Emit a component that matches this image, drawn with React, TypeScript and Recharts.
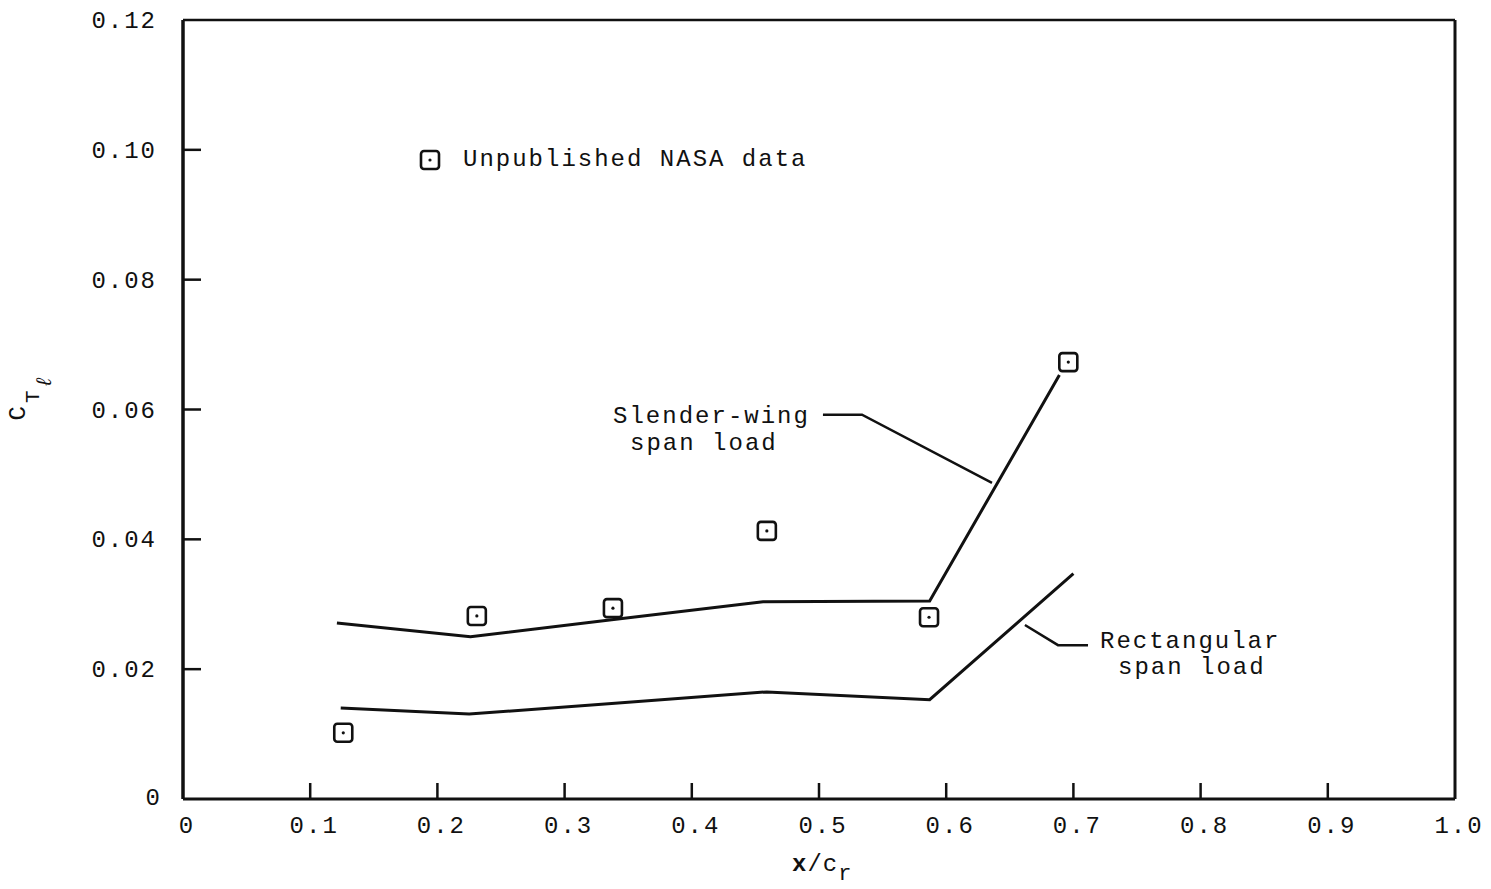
import React from 'react';
import {
  ComposedChart,
  Line,
  Scatter,
  XAxis,
  YAxis,
  ReferenceLine,
  ReferenceDot,
  Legend,
  Label,
} from 'recharts';

// ---------- data ----------
const xTicks = [0, 0.1, 0.2, 0.3, 0.4, 0.5, 0.6, 0.7, 0.8, 0.9, 1.0];
const yTicks = [0, 0.02, 0.04, 0.06, 0.08, 0.1, 0.12];

// Unpublished NASA data (square symbols)
const nasaX = [0.126, 0.231, 0.338, 0.459, 0.5865, 0.696];
const nasaY = [0.0102, 0.0282, 0.0294, 0.0413, 0.028, 0.0673];

// Slender-wing span load curve
const slenderX = [0.121, 0.226, 0.337, 0.456, 0.587, 0.689];
const slenderY = [0.0271, 0.025, 0.0276, 0.0304, 0.0305, 0.0653];

// Rectangular span load curve
const rectX = [0.124, 0.225, 0.337, 0.459, 0.587, 0.7];
const rectY = [0.014, 0.0131, 0.0147, 0.0165, 0.0153, 0.0347];

// Annotation leader lines
const slenderLeaderX = [0.5031, 0.5338, 0.636];
const slenderLeaderY = [0.0592, 0.0592, 0.0487];
const rectLeaderX = [0.6619, 0.6879, 0.7115];
const rectLeaderY = [0.0268, 0.0237, 0.0237];

const legendLabel = 'Unpublished NASA data';
const slenderLabel = ['Slender-wing', 'span load'];
const rectLabel = ['Rectangular', 'span load'];
const slenderLabelAt = { x: 0.3381, y: 0.0579 };
const rectLabelAt = { x: 0.7209, y: 0.0233 };

const zip = (xs: number[], ys: number[]) => xs.map((x, i) => ({ x, y: ys[i] }));
const nasaData = zip(nasaX, nasaY);
const slenderData = zip(slenderX, slenderY);
const rectData = zip(rectX, rectY);
const slenderLeader = zip(slenderLeaderX, slenderLeaderY);
const rectLeader = zip(rectLeaderX, rectLeaderY);

// ---------- styles ----------
const FONT = "'Liberation Mono', 'Courier New', monospace";
const INK = '#111';

const XTick = (props: any) => {
  const { x, y, payload } = props;
  const v = payload.value as number;
  const label = v === 0 ? '0' : v === 1 ? '1.0' : v.toFixed(1);
  return (
    <g>
      {v > 0 && v < 1 && (
        <line x1={x} x2={x} y1={y} y2={y - 16} stroke={INK} strokeWidth={2.5} />
      )}
      <text
        x={x + 4}
        y={y + 34}
        textAnchor="middle"
        fontFamily={FONT}
        fontSize={24}
        letterSpacing={2}
        fill={INK}
      >
        {label}
      </text>
    </g>
  );
};

const YTick = (props: any) => {
  const { x, y, payload } = props;
  const v = payload.value as number;
  const label = v === 0 ? '0' : v.toFixed(2);
  return (
    <g>
      {v > 0 && v < 0.12 && (
        <line x1={x} x2={x + 18} y1={y} y2={y} stroke={INK} strokeWidth={2.5} />
      )}
      <text
        x={v === 0 ? x - 21 : x - 26}
        y={v === 0 ? y + 6 : y + 8}
        textAnchor="end"
        fontFamily={FONT}
        fontSize={24}
        letterSpacing={2}
        fill={INK}
      >
        {label}
      </text>
    </g>
  );
};

const SquareMark = (props: any) => {
  const { cx, cy } = props;
  if (cx == null || cy == null) return null;
  return (
    <g>
      <rect
        x={cx - 9}
        y={cy - 9}
        width={18}
        height={18}
        rx={3}
        fill="none"
        stroke={INK}
        strokeWidth={2.6}
      />
      <circle cx={cx} cy={cy} r={1.6} fill={INK} />
    </g>
  );
};

const makeNote = (lines: string[], dx2: number, dy2: number) => (props: any) => {
  const { cx, cy } = props;
  return (
    <text x={cx} y={cy} fontFamily={FONT} fontSize={24} letterSpacing={2} fill={INK}>
      <tspan x={cx} y={cy}>
        {lines[0]}
      </tspan>
      <tspan x={cx + dx2} y={cy + dy2}>
        {lines[1]}
      </tspan>
    </text>
  );
};

const LegendContent = () => (
  <div
    style={{
      display: 'flex',
      alignItems: 'center',
      fontFamily: FONT,
      fontSize: 24,
      letterSpacing: 2,
      color: INK,
      whiteSpace: 'nowrap',
      lineHeight: '24px',
    }}
  >
    <svg width={24} height={24} style={{ display: 'block' }}>
      <rect x={3} y={3} width={18} height={18} rx={3} fill="none" stroke={INK} strokeWidth={2.6} />
      <circle cx={12} cy={12} r={1.6} fill={INK} />
    </svg>
    <span style={{ marginLeft: 21 }}>{legendLabel}</span>
  </div>
);

const YLabel = (props: any) => {
  const vb = props.viewBox || {};
  const x = vb.x - 78;
  const y = vb.y + vb.height / 2 + 11;
  return (
    <text
      x={x}
      y={y}
      transform={`rotate(-90 ${x} ${y})`}
      fontFamily={FONT}
      fontSize={24}
      fill={INK}
    >
      C
      <tspan dx={3} dy={14} fontSize={21}>
        T
      </tspan>
      <tspan dx={2} dy={12} fontSize={21} fontStyle="italic">
        ℓ
      </tspan>
    </text>
  );
};

const XLabel = (props: any) => {
  const vb = props.viewBox || {};
  const x = vb.x + vb.width / 2 - 27;
  const y = vb.y + 72;
  return (
    <text x={x} y={y} fontFamily={FONT} fontSize={24} letterSpacing={1} fill={INK}>
      <tspan fontWeight="bold">x</tspan>/c
      <tspan dy={9} fontSize={22}>
        r
      </tspan>
    </text>
  );
};

export default function App() {
  return (
    <div style={{ position: 'absolute', left: 0, top: 0, width: 1491, height: 889, background: '#fff' }}>
      <ComposedChart
        width={1491}
        height={889}
        margin={{ top: 20, right: 36, bottom: 50, left: 103 }}
      >
        <XAxis
          type="number"
          dataKey="x"
          domain={[0, 1]}
          ticks={xTicks}
          interval={0}
          height={40}
          tickSize={0}
          tickMargin={0}
          tickLine={false}
          tick={<XTick />}
          axisLine={{ stroke: INK, strokeWidth: 3 }}
          allowDataOverflow
        >
          <Label content={<XLabel />} />
        </XAxis>
        <YAxis
          type="number"
          dataKey="y"
          domain={[0, 0.12]}
          ticks={yTicks}
          interval={0}
          width={80}
          tickSize={0}
          tickMargin={0}
          tickLine={false}
          tick={<YTick />}
          axisLine={{ stroke: INK, strokeWidth: 3.5 }}
          allowDataOverflow
        >
          <Label content={<YLabel />} />
        </YAxis>
        <ReferenceLine y={0.12} stroke={INK} strokeWidth={2.5} />
        <ReferenceLine x={1} stroke={INK} strokeWidth={3} />

        <Line
          data={slenderData}
          dataKey="y"
          type="linear"
          stroke={INK}
          strokeWidth={3}
          dot={false}
          activeDot={false}
          isAnimationActive={false}
          legendType="none"
        />
        <Line
          data={rectData}
          dataKey="y"
          type="linear"
          stroke={INK}
          strokeWidth={3}
          dot={false}
          activeDot={false}
          isAnimationActive={false}
          legendType="none"
        />
        <Line
          data={slenderLeader}
          dataKey="y"
          type="linear"
          stroke={INK}
          strokeWidth={2.5}
          dot={false}
          activeDot={false}
          isAnimationActive={false}
          legendType="none"
        />
        <Line
          data={rectLeader}
          dataKey="y"
          type="linear"
          stroke={INK}
          strokeWidth={2.5}
          dot={false}
          activeDot={false}
          isAnimationActive={false}
          legendType="none"
        />
        <Scatter
          name={legendLabel}
          data={nasaData}
          dataKey="y"
          shape={<SquareMark />}
          isAnimationActive={false}
        />
        <ReferenceDot
          x={slenderLabelAt.x}
          y={slenderLabelAt.y}
          r={0}
          shape={makeNote(slenderLabel, 17, 27)}
        />
        <ReferenceDot
          x={rectLabelAt.x}
          y={rectLabelAt.y}
          r={0}
          shape={makeNote(rectLabel, 18, 26)}
        />
        <Legend
          layout="horizontal"
          verticalAlign="middle"
          align="center"
          content={<LegendContent />}
          wrapperStyle={{ position: 'absolute', left: 418, top: 148, width: 'auto', height: 'auto' }}
        />
      </ComposedChart>
    </div>
  );
}
